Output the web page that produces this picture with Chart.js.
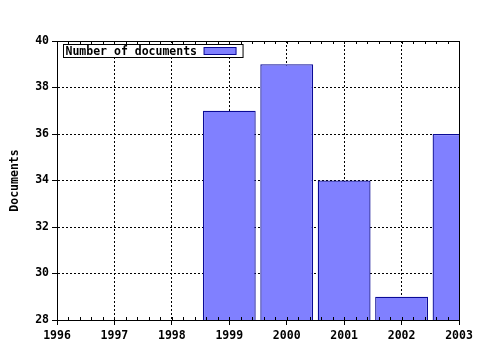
<!DOCTYPE html>
<html>
<head>
<meta charset="utf-8">
<script src="https://cdn.jsdelivr.net/npm/chart.js@4.4.0/dist/chart.umd.min.js"></script>
<style>
  html, body { margin: 0; padding: 0; background: #fff; }
  #wrap { width: 480px; height: 350px; }
</style>
</head>
<body>
<div id="wrap"><canvas id="docChart" width="480" height="350"></canvas></div>
<script>
var years = [1999, 2000, 2001, 2002, 2003];
var documents = [37, 39, 34, 29, 36];
var seriesLabel = 'Number of documents';
var yearMin = 1996, yearMax = 2003;
var docMin = 28, docMax = 40, docStep = 2;

var barFill = '#8080ff';
var barEdge = '#0a0a96';
var font = { family: "'DejaVu Sans Mono', monospace", size: 11.5, weight: 'bold' };

// frame, minor ticks and the boxed legend drawn over the plot
var framePlugin = {
    id: 'frame',
    afterDraw: function(chart) {
        var ctx = chart.ctx;
        var a = chart.chartArea;
        var xs = chart.scales.x;
        ctx.save();
        ctx.strokeStyle = '#000';
        ctx.lineWidth = 1;
        ctx.beginPath();
        ctx.moveTo(Math.round(a.left) + 0.5, Math.round(a.top) + 0.5);
        ctx.lineTo(Math.round(a.right) + 0.5, Math.round(a.top) + 0.5);
        ctx.lineTo(Math.round(a.right) + 0.5, Math.round(a.bottom) + 0.5);
        ctx.stroke();

        // minor ticks on top and bottom
        ctx.beginPath();
        for (var v = yearMin; v <= yearMax + 0.001; v += 0.2) {
            var px = Math.round(xs.getPixelForValue(v)) + 0.5;
            ctx.moveTo(px, Math.round(a.top));
            ctx.lineTo(px, Math.round(a.top) + 3);
            ctx.moveTo(px, Math.round(a.bottom));
            ctx.lineTo(px, Math.round(a.bottom) - 3);
        }
        ctx.stroke();

        // legend box
        var lx = Math.round(a.left) + 6.5, ly = Math.round(a.top) + 3.5;
        ctx.font = 'bold ' + font.size + 'px ' + font.family;
        var tw = ctx.measureText(seriesLabel).width;
        var w = tw + 48, h = 13;
        ctx.fillStyle = '#fff';
        ctx.fillRect(lx, ly, w, h);
        ctx.strokeRect(lx, ly, w, h);
        ctx.fillStyle = '#000';
        ctx.textBaseline = 'middle';
        ctx.fillText(seriesLabel, lx + 2, ly + h / 2 + 1);
        var sx = lx + tw + 9;
        ctx.fillStyle = barFill;
        ctx.fillRect(sx, ly + 3, 32, 7);
        ctx.strokeStyle = barEdge;
        ctx.strokeRect(sx, ly + 3, 32, 7);
        ctx.restore();
    }
};

var ctx = document.getElementById('docChart').getContext('2d');
var chart = new Chart(ctx, {
    type: 'bar',
    data: {
        datasets: [{
            label: seriesLabel,
            data: years.map(function(y, i) { return { x: y, y: documents[i] }; }),
            backgroundColor: barFill,
            borderColor: barEdge,
            borderWidth: 1.3,
            borderSkipped: false,
            barPercentage: 0.92,
            categoryPercentage: 1.0,
            clip: 0
        }]
    },
    options: {
        responsive: false,
        animation: false,
        layout: { padding: { left: 0, right: 21, top: 41, bottom: 0 } },
        plugins: {
            legend: { display: false },
            tooltip: { enabled: false }
        },
        scales: {
            x: {
                type: 'linear',
                min: yearMin,
                max: yearMax,
                offset: false,
                grid: { color: '#000', offset: false, tickLength: 5, tickColor: '#000' },
                border: { display: true, color: '#000', dash: [2, 2] },
                ticks: {
                    stepSize: 1,
                    autoSkip: false,
                    maxRotation: 0,
                    padding: 4,
                    color: '#000',
                    font: font,
                    callback: function(v) { return String(v); }
                },
                afterFit: function(s) { s.height = 30; }
            },
            y: {
                min: docMin,
                max: docMax,
                grid: { color: '#000', tickLength: 5, tickColor: '#000' },
                border: { display: true, color: '#000', dash: [2, 2] },
                ticks: { stepSize: docStep, padding: 3, color: '#000', font: font },
                title: {
                    display: true,
                    text: 'Documents',
                    color: '#000',
                    font: font,
                    padding: { top: 8, bottom: 0 }
                },
                afterFit: function(s) { s.width = 57; }
            }
        }
    },
    plugins: [framePlugin]
});
</script>
</body>
</html>
